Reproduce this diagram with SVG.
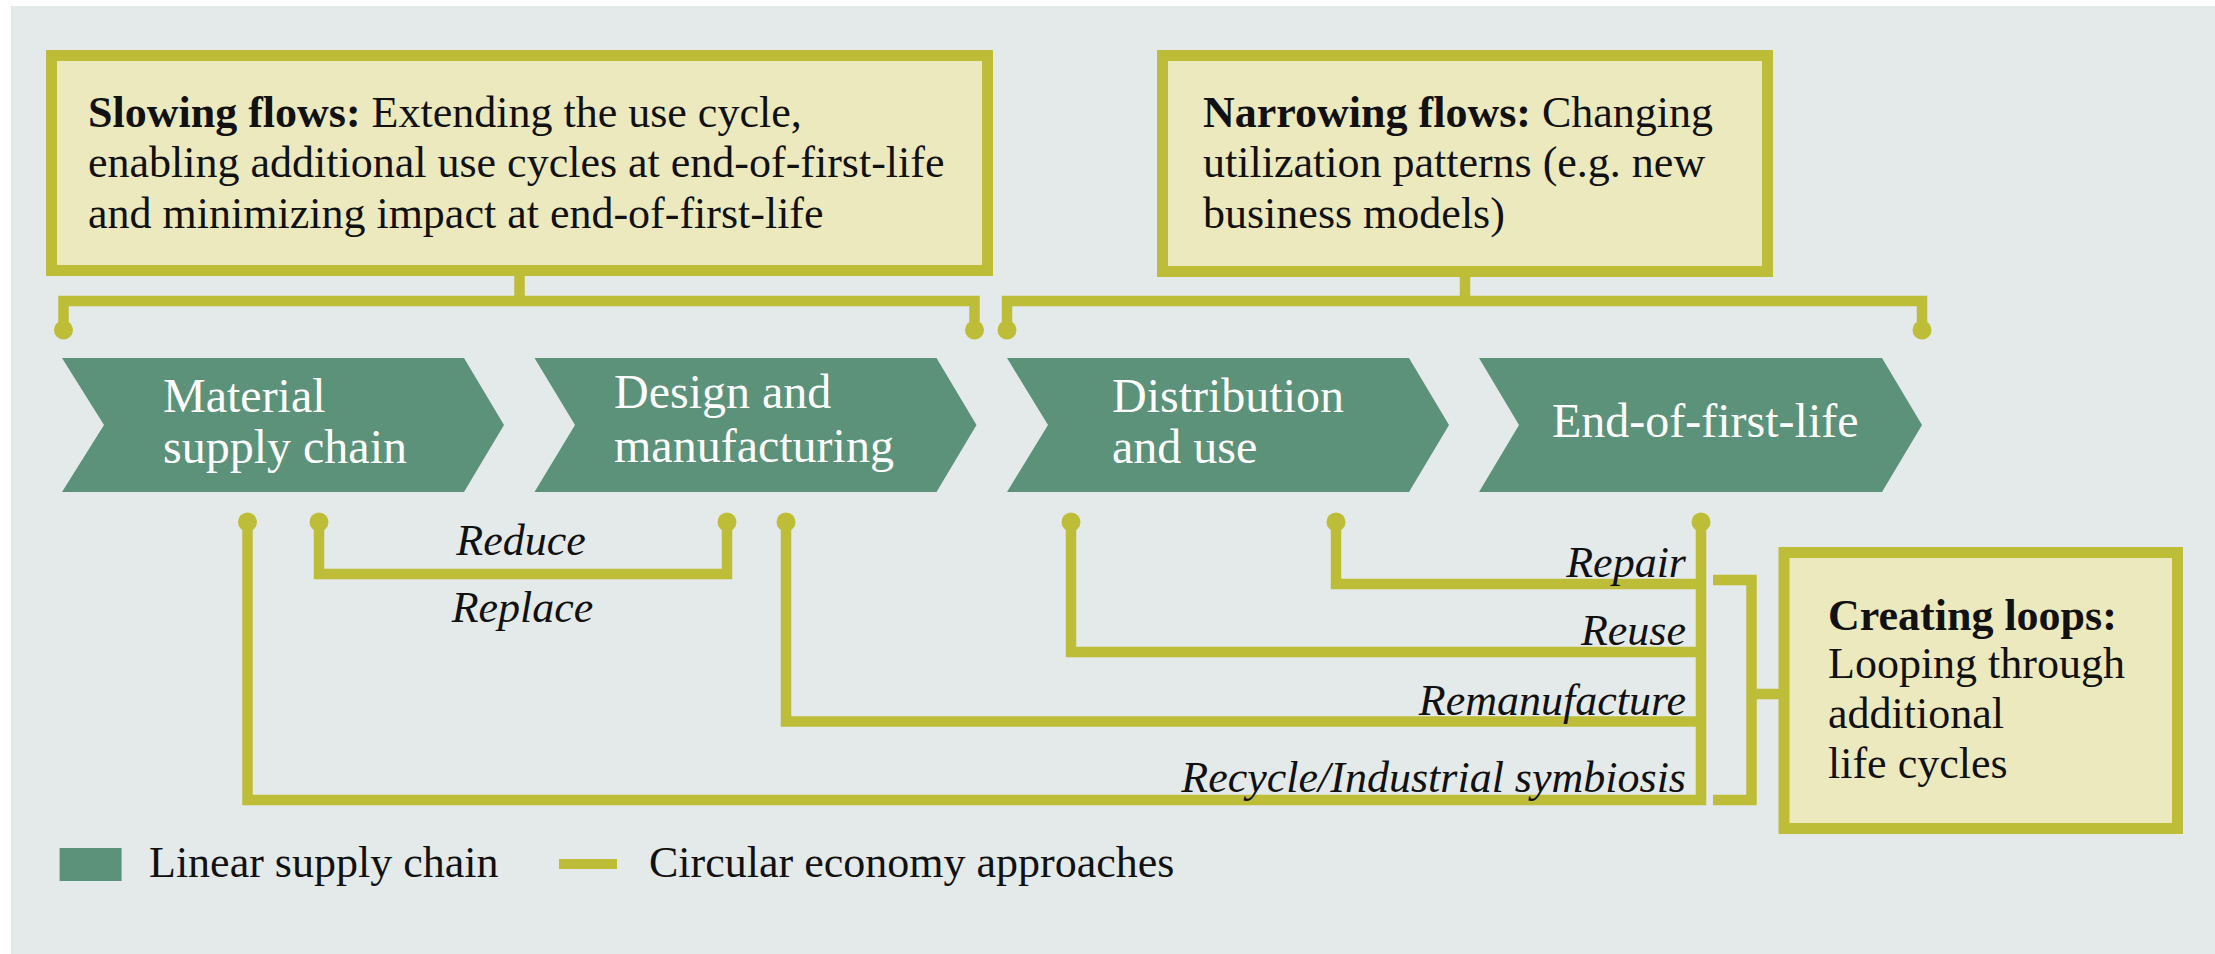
<svg xmlns="http://www.w3.org/2000/svg" width="2215" height="954" viewBox="0 0 2215 954">
<style>
.box{fill:#ece9be;stroke:#bdbd38;stroke-width:11}
.chev{fill:#5b9279}
.ln{fill:none;stroke:#bdbd38;stroke-width:10.5;stroke-linejoin:miter;stroke-linecap:butt}
.dot{fill:#bdbd38}
.t{font-family:"Liberation Serif","Times New Roman",serif;font-size:44px;fill:#111}
.b{font-weight:bold}
.w{font-family:"Liberation Serif","Times New Roman",serif;font-size:48px;fill:#ffffff}
.i{font-family:"Liberation Serif","Times New Roman",serif;font-size:44px;font-style:italic;fill:#111}
.r{text-anchor:end}
.m{text-anchor:middle}
</style>
<rect x="11" y="6" width="2204" height="948" fill="#e4eaea"/>

<g id="slowing">
<rect class="box" x="51.5" y="55.5" width="936" height="215"/>
<text class="t" x="88" y="127"><tspan class="b">Slowing flows:</tspan> Extending the use cycle,</text>
<text class="t" x="88" y="177">enabling additional use cycles at end-of-first-life</text>
<text class="t" x="88" y="228">and minimizing impact at end-of-first-life</text>
</g>

<g id="narrowing">
<rect class="box" x="1162.5" y="55.5" width="605" height="216"/>
<text class="t" x="1203" y="127"><tspan class="b">Narrowing flows:</tspan> Changing</text>
<text class="t" x="1203" y="177">utilization patterns (e.g. new</text>
<text class="t" x="1203" y="228">business models)</text>
</g>

<g id="material">
<polygon class="chev" points="62,358 464,358 504,425 464,492 62,492 104,425"/>
<text class="w" x="163" y="412">Material</text>
<text class="w" x="163" y="463">supply chain</text>
</g>
<g id="design">
<polygon class="chev" points="534.5,358 936.5,358 976.5,425 936.5,492 534.5,492 575,425"/>
<text class="w" x="614" y="408">Design and</text>
<text class="w" x="614" y="462">manufacturing</text>
</g>
<g id="distribution">
<polygon class="chev" points="1007,358 1409,358 1449,425 1409,492 1007,492 1048,425"/>
<text class="w" x="1112" y="412">Distribution</text>
<text class="w" x="1112" y="463">and use</text>
</g>
<g id="endoflife">
<polygon class="chev" points="1479,358 1882,358 1922,425 1882,492 1479,492 1519,425"/>
<text class="w" x="1552" y="437">End-of-first-life</text>
</g>

<g id="creating">
<rect class="box" x="1784" y="552.5" width="393.5" height="276"/>
<text class="t b" x="1828" y="630">Creating loops:</text>
<text class="t" x="1828" y="678">Looping through</text>
<text class="t" x="1828" y="728">additional</text>
<text class="t" x="1828" y="778">life cycles</text>
</g>

<g id="connectors">
<path class="ln" d="M519.5,275 V301 M63.5,330 V301 H974.5 V330"/>
<path class="ln" d="M1465,276 V301 M1007,330 V301 H1922 V330"/>
<circle class="dot" cx="63.5" cy="330" r="9.5"/>
<circle class="dot" cx="974.5" cy="330" r="9.5"/>
<circle class="dot" cx="1007" cy="330" r="9.5"/>
<circle class="dot" cx="1922" cy="330" r="9.5"/>

<path class="ln" d="M1701,522 V800 H247.5 V522"/>
<path class="ln" d="M319,522 V574 H727 V522"/>
<path class="ln" d="M786,522 V721.5 H1701"/>
<path class="ln" d="M1071,522 V652 H1701"/>
<path class="ln" d="M1336,522 V584 H1701"/>
<circle class="dot" cx="247.5" cy="522" r="9.5"/>
<circle class="dot" cx="319" cy="522" r="9.5"/>
<circle class="dot" cx="727" cy="522" r="9.5"/>
<circle class="dot" cx="786" cy="522" r="9.5"/>
<circle class="dot" cx="1071" cy="522" r="9.5"/>
<circle class="dot" cx="1336" cy="522" r="9.5"/>
<circle class="dot" cx="1701" cy="522" r="9.5"/>

<path class="ln" d="M1713,580 H1751.5 V800 H1713 M1751.5,694 H1779"/>

<text class="i m" x="521" y="555">Reduce</text>
<text class="i m" x="522.5" y="622">Replace</text>
<text class="i r" x="1686" y="577">Repair</text>
<text class="i r" x="1686" y="645">Reuse</text>
<text class="i r" x="1686" y="715">Remanufacture</text>
<text class="i r" x="1686" y="792">Recycle/Industrial symbiosis</text>
</g>

<g id="legend">
<rect x="59.6" y="848" width="62" height="33" fill="#5b9279"/>
<text class="t" x="149" y="877">Linear supply chain</text>
<rect x="559" y="859" width="58" height="10" fill="#bdbd38"/>
<text class="t" x="649" y="877">Circular economy approaches</text>
</g>
</svg>
